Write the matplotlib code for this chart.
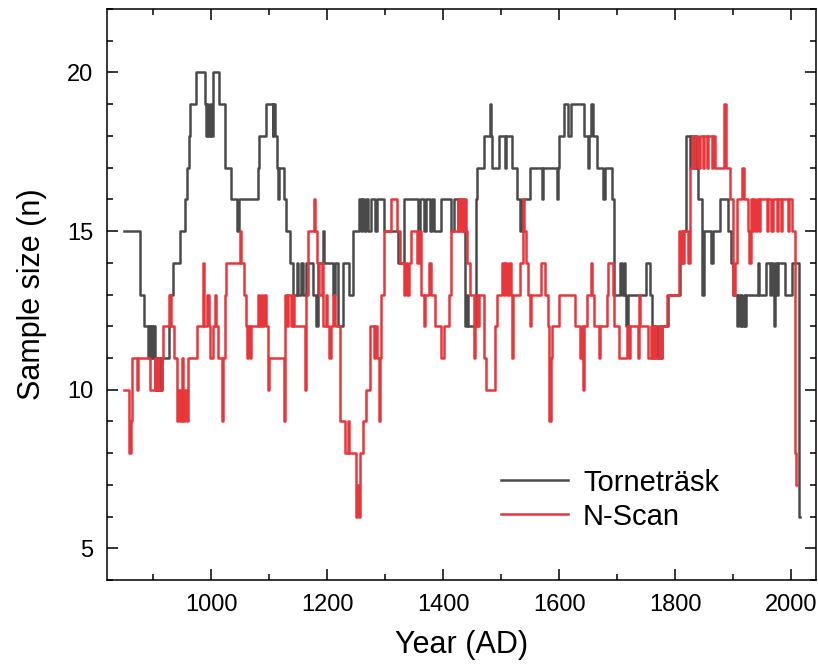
import matplotlib
matplotlib.use("Agg")
import matplotlib.pyplot as plt
from matplotlib.ticker import MultipleLocator

# Torneträsk sample size: year where the count changes, and the new count
t_years = [850, 877, 884, 890, 892, 894, 896, 898, 900, 902, 904, 906, 908, 910, 912, 913,
           915, 927, 929, 934, 946, 955, 958, 961, 964, 973, 989, 991, 993, 995, 997, 999,
           1003, 1014, 1023, 1034, 1045, 1047, 1080, 1083, 1094, 1106, 1107, 1109, 1113, 1115,
           1117, 1126, 1129, 1136, 1141, 1147, 1150, 1155, 1158, 1163, 1176, 1181, 1184, 1192,
           1194, 1210, 1213, 1218, 1227, 1238, 1244, 1255, 1258, 1260, 1263, 1266, 1270, 1276,
           1283, 1286, 1298, 1322, 1332, 1357, 1360, 1367, 1370, 1377, 1380, 1384, 1396, 1413,
           1418, 1425, 1428, 1436, 1438, 1441, 1443, 1456, 1459, 1470, 1480, 1482, 1484, 1496,
           1506, 1508, 1519, 1527, 1533, 1536, 1550, 1570, 1572, 1596, 1598, 1600, 1608, 1616,
           1620, 1642, 1650, 1652, 1655, 1659, 1665, 1676, 1679, 1691, 1694, 1705, 1708, 1711,
           1713, 1716, 1719, 1750, 1757, 1760, 1763, 1766, 1769, 1772, 1775, 1777, 1788, 1808,
           1811, 1819, 1826, 1828, 1831, 1834, 1836, 1839, 1847, 1850, 1862, 1865, 1877, 1891,
           1897, 1900, 1906, 1908, 1911, 1913, 1916, 1918, 1921, 1923, 1943, 1945, 1957, 1963,
           1966, 1969, 1971, 1973, 1976, 1978, 1989, 2001, 2013, 2015]
t_vals = [15, 13, 12, 11, 12, 11, 12, 11, 12, 10, 11, 10, 11, 10, 11, 10,
          11, 12, 13, 14, 15, 16, 17, 18, 19, 20, 19, 18, 19, 18, 19, 18,
          20, 19, 17, 16, 15, 16, 17, 18, 19, 18, 19, 18, 17, 16,
          17, 16, 15, 14, 13, 14, 13, 14, 13, 14, 13, 12, 14, 15,
          14, 13, 14, 12, 14, 13, 15, 16, 15, 16, 15, 16, 15, 16,
          15, 16, 15, 14, 16, 15, 16, 15, 16, 15, 16, 15, 16, 15,
          16, 15, 16, 15, 12, 13, 12, 16, 17, 18, 19, 18, 17, 18,
          17, 18, 17, 16, 15, 16, 17, 16, 17, 16, 17, 18, 19, 18,
          19, 18, 17, 18, 19, 18, 17, 16, 17, 16, 13, 14, 13, 14,
          13, 12, 13, 14, 13, 12, 11, 12, 11, 12, 11, 12, 13, 14,
          15, 18, 17, 18, 17, 18, 17, 16, 13, 15, 14, 15, 16, 15,
          14, 13, 12, 13, 12, 13, 12, 13, 12, 13, 14, 13, 14, 13,
          14, 13, 12, 14, 13, 14, 13, 14, 6, 6]

# N-Scan sample size
n_years = [850, 858, 861, 863, 871, 874, 894, 903, 905, 908, 910, 915, 917, 927, 931, 935,
           940, 943, 946, 949, 951, 955, 958, 960, 975, 985, 987, 993, 996, 998, 1003, 1006,
           1008, 1012, 1018, 1020, 1023, 1026, 1049, 1051, 1057, 1060, 1062, 1064, 1066, 1068,
           1080, 1083, 1085, 1088, 1090, 1095, 1097, 1099, 1125, 1127, 1131, 1133, 1137, 1140,
           1142, 1162, 1164, 1166, 1177, 1179, 1183, 1186, 1190, 1193, 1197, 1200, 1203, 1206,
           1210, 1214, 1222, 1230, 1236, 1238, 1249, 1252, 1254, 1256, 1261, 1266, 1273, 1280,
           1282, 1285, 1289, 1291, 1293, 1298, 1310, 1321, 1326, 1332, 1334, 1337, 1341, 1344,
           1355, 1358, 1362, 1366, 1368, 1376, 1379, 1386, 1396, 1402, 1410, 1414, 1425, 1429,
           1432, 1434, 1437, 1439, 1441, 1446, 1453, 1455, 1458, 1460, 1462, 1470, 1473, 1490,
           1493, 1502, 1504, 1507, 1510, 1513, 1516, 1519, 1521, 1533, 1538, 1540, 1542, 1547,
           1550, 1552, 1568, 1576, 1580, 1583, 1585, 1588, 1600, 1628, 1636, 1640, 1641, 1643,
           1648, 1654, 1657, 1660, 1668, 1671, 1682, 1684, 1692, 1694, 1704, 1717, 1720, 1722,
           1736, 1738, 1740, 1754, 1758, 1760, 1764, 1767, 1772, 1774, 1777, 1786, 1806, 1809,
           1812, 1814, 1816, 1822, 1825, 1829, 1833, 1835, 1840, 1842, 1848, 1850, 1855, 1857,
           1863, 1866, 1868, 1885, 1887, 1894, 1899, 1903, 1906, 1916, 1918, 1926, 1928, 1930,
           1932, 1935, 1938, 1941, 1944, 1947, 1958, 1960, 1966, 1968, 1975, 1977, 1983, 1985,
           1994, 1996, 2001, 2006, 2008, 2011]
n_vals = [10, 8, 9, 11, 10, 11, 10, 11, 10, 11, 10, 11, 12, 13, 12, 11,
          9, 10, 9, 11, 9, 10, 9, 11, 12, 14, 12, 13, 12, 11, 12, 13,
          12, 11, 9, 11, 13, 14, 15, 14, 13, 12, 11, 12, 11, 12,
          13, 12, 13, 12, 13, 12, 10, 11, 9, 13, 12, 13, 12, 13,
          12, 10, 13, 15, 16, 15, 14, 13, 14, 12, 13, 12, 11, 12,
          13, 12, 9, 8, 9, 8, 6, 7, 6, 8, 9, 10, 12, 11,
          12, 11, 9, 11, 13, 15, 16, 15, 14, 13, 14, 13, 14, 15,
          14, 15, 13, 12, 13, 14, 13, 12, 11, 12, 13, 15, 16, 15,
          16, 15, 16, 15, 14, 13, 11, 12, 13, 12, 13, 11, 10, 12,
          13, 14, 13, 14, 13, 14, 13, 11, 13, 14, 16, 15, 14, 13,
          12, 13, 14, 13, 12, 9, 11, 12, 13, 12, 11, 12, 10, 12,
          13, 14, 13, 12, 11, 12, 13, 14, 13, 12, 11, 12, 11, 12,
          11, 13, 12, 11, 12, 11, 12, 11, 12, 11, 12, 13, 15, 14,
          15, 14, 15, 14, 17, 18, 17, 18, 17, 18, 17, 18, 17, 18,
          17, 18, 17, 19, 17, 16, 13, 14, 16, 17, 16, 15, 14, 16,
          15, 16, 15, 16, 15, 16, 15, 16, 15, 16, 15, 16, 15, 16,
          15, 16, 15, 8, 7, 7]

plt.rcParams['font.family'] = ['Liberation Sans', 'DejaVu Sans']

fig = plt.figure(figsize=(8.18, 6.66), dpi=100)
ax = fig.add_axes([0.1308, 0.1291, 0.8668, 0.8574])

ax.step(t_years, t_vals, where='post', color='#4a4a4a', lw=1.8, label='Torneträsk')
ax.step(n_years, n_vals, where='post', color='#e8363a', lw=1.8, label='N-Scan')

ax.set_xlim(820, 2043)
ax.set_ylim(4, 22)
ax.xaxis.set_major_locator(MultipleLocator(200))
ax.xaxis.set_minor_locator(MultipleLocator(100))
ax.yaxis.set_major_locator(MultipleLocator(5))
ax.yaxis.set_minor_locator(MultipleLocator(1))
ax.set_xticks([1000, 1200, 1400, 1600, 1800, 2000])

ax.tick_params(which='both', direction='in', top=True, right=True, width=1.1)
ax.tick_params(which='major', length=8, labelsize=17, pad=10)
ax.tick_params(which='minor', length=4)
for s in ax.spines.values():
    s.set_linewidth(1.1)

ax.set_xlabel('Year (AD)', fontsize=22, labelpad=10)
ax.set_ylabel('Sample size (n)', fontsize=22, labelpad=14)

ax.legend(loc='upper left', bbox_to_anchor=(0.556, 0.195), frameon=False, fontsize=21,
          handlelength=2.3, handletextpad=0.5, labelspacing=0.2, borderpad=0, borderaxespad=0)

fig.savefig('out.png', dpi=100)
